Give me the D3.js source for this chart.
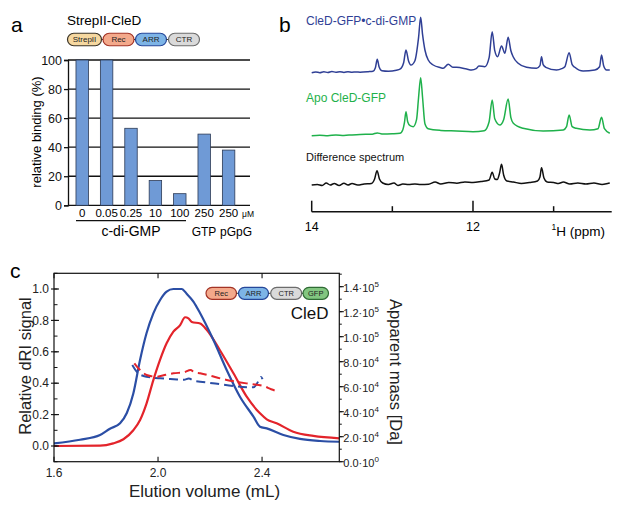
<!DOCTYPE html>
<html>
<head>
<meta charset="utf-8">
<script src="https://cdn.jsdelivr.net/npm/d3@7"></script>
<style>
    body { margin: 0; background: #fff; }
    svg { font-family: "Liberation Sans", Arial, sans-serif; }
</style>
</head>
<body>
<svg id="fig" width="617" height="513"></svg>
<script>
"use strict";

// ---- panel a: binding
const bindCats = ['0', '0.05', '0.25', '10', '100', '250', '250 pGpG'];
const bindLabels = ['0', '0.05', '0.25', '10', '100', '250', '250'];
const bindValues = [100, 100, 53, 17, 8, 49, 38];
const bindTicks = [0, 20, 40, 60, 80, 100];

// ---- panel b: 1D spectra, [ppm, intensity]
const specBound = [[14.00, 0], [13.95, 0.8], [13.90, 0], [13.85, 1.0], [13.80, 0.2], [13.75, 1.2], [13.70, 0.4],
    [13.65, 1.0], [13.60, 0.3], [13.55, 1.0], [13.50, 0.5], [13.45, 0.8], [13.40, 0.5], [13.30, 1.0], [13.24, 1.5],
    [13.21, 5], [13.187, 13.4], [13.165, 6], [13.13, 2], [13.05, 1.5], [12.95, 2.5], [12.906, 3.5], [12.86, 10],
    [12.831, 22.7], [12.80, 12], [12.77, 7.7], [12.72, 12], [12.675, 35], [12.649, 55.4], [12.625, 38], [12.596, 22.7],
    [12.555, 12.7], [12.493, 7.7], [12.40, 5], [12.369, 4.4], [12.307, 8.4], [12.25, 5.5], [12.203, 5.4], [12.079, 3.7],
    [12.017, 2.7], [11.96, 4], [11.927, 6.7], [11.853, 6], [11.80, 15], [11.762, 41], [11.73, 22], [11.695, 16],
    [11.646, 26.7], [11.605, 19.4], [11.564, 35.4], [11.53, 22], [11.502, 16], [11.44, 9.4], [11.336, 5.4],
    [11.212, 4.4], [11.17, 7], [11.150, 16], [11.13, 8], [11.097, 5.4], [10.964, 2.7], [10.90, 4], [10.861, 6],
    [10.808, 20], [10.77, 8], [10.737, 5.4], [10.634, 1.7], [10.489, 2.7], [10.43, 6], [10.406, 17.7], [10.38, 7],
    [10.344, 2.7], [10.304, 2.7]];
const specApo = [[14.00, 0], [13.90, 0.5], [13.80, 0], [13.70, 0.8], [13.60, 0.3], [13.50, 0.8], [13.40, 1.2],
    [13.25, 1.5], [13.187, 2.8], [13.13, 1.8], [13.00, 2], [12.906, 2.4], [12.87, 6], [12.85, 13], [12.831, 24],
    [12.81, 14], [12.78, 10], [12.74, 9], [12.70, 16], [12.675, 38], [12.649, 58], [12.625, 38], [12.596, 12],
    [12.555, 7], [12.40, 5.3], [12.203, 4.7], [12.00, 4], [11.86, 5], [11.80, 14], [11.762, 35.7], [11.73, 17],
    [11.667, 10.7], [11.62, 16], [11.564, 36.7], [11.53, 18], [11.50, 12.4], [11.38, 7.4], [11.13, 4.7],
    [10.88, 5.7], [10.84, 9], [10.808, 20.7], [10.77, 9], [10.72, 7.4], [10.55, 5.7], [10.45, 7], [10.406, 18.4],
    [10.37, 7], [10.304, 2.4]];
const specDiff = [[14.00, 0], [13.93, 0.5], [13.87, -0.5], [13.82, 2], [13.77, 0], [13.72, 1.5], [13.66, -0.5],
    [13.60, 1.8], [13.55, 0], [13.50, 1.5], [13.43, 0], [13.35, 1], [13.26, 1.5], [13.22, 6], [13.19, 14.3],
    [13.16, 6], [13.12, 2], [13.05, 0.5], [12.98, 2], [12.93, -0.5], [12.87, 1], [12.80, 0.5], [12.72, 1],
    [12.65, 0.5], [12.55, 0.8], [12.47, 3], [12.40, 1], [12.30, 2.5], [12.20, 1.8], [12.10, 3], [12.00, 2.5],
    [11.90, 3.5], [11.80, 5], [11.762, 12.7], [11.73, 6], [11.70, 5.5], [11.67, 12], [11.646, 20.7], [11.62, 10],
    [11.58, 4], [11.50, 3], [11.40, 1.5], [11.30, 2.5], [11.20, 4], [11.17, 8], [11.150, 17.3], [11.12, 7],
    [11.08, 3], [11.00, 2.5], [10.94, 1.5], [10.88, 3], [10.80, 1], [10.70, 2], [10.60, 1], [10.50, 2],
    [10.40, 0.5], [10.33, 1.5], [10.304, 2]];
const ppmTicks = [14, 13, 12, 11];

// ---- panel c: SEC-MALS, [volume mL, value]
const riBlue = [[1.60, 0.017], [1.70, 0.04], [1.777, 0.07], [1.815, 0.11], [1.854, 0.145], [1.88, 0.21],
    [1.905, 0.335], [1.931, 0.55], [1.956, 0.72], [1.982, 0.845], [2.008, 0.93], [2.033, 0.983], [2.059, 1.0],
    [2.091, 1.0], [2.11, 0.97], [2.136, 0.92], [2.162, 0.845], [2.213, 0.675], [2.264, 0.484], [2.315, 0.314],
    [2.367, 0.187], [2.392, 0.123], [2.418, 0.112], [2.482, 0.07], [2.546, 0.045], [2.623, 0.032], [2.697, 0.027]];
const riRed = [[1.60, 0.0], [1.777, 0.002], [1.828, 0.017], [1.867, 0.043], [1.905, 0.10], [1.931, 0.166],
    [1.956, 0.272], [1.982, 0.42], [2.008, 0.55], [2.033, 0.654], [2.059, 0.728], [2.085, 0.77], [2.104, 0.82],
    [2.117, 0.813], [2.13, 0.79], [2.162, 0.78], [2.187, 0.74], [2.238, 0.61], [2.29, 0.463], [2.341, 0.314],
    [2.392, 0.208], [2.418, 0.17], [2.456, 0.145], [2.52, 0.091], [2.597, 0.064], [2.697, 0.049]];
const massBlue = [[1.901, 77400], [1.92, 71500], [1.944, 68500], [1.98, 67200], [2.008, 66700], [2.06, 66000],
    [2.10, 65500], [2.118, 66500], [2.14, 64500], [2.162, 64000], [2.22, 62500], [2.29, 60500], [2.367, 59500],
    [2.379, 62000], [2.39, 66000], [2.396, 67800], [2.402, 66000]];
const massRed = [[1.909, 78700], [1.93, 73500], [1.956, 69400], [1.995, 68000], [2.03, 69500], [2.059, 70700],
    [2.10, 71500], [2.125, 73400], [2.14, 71500], [2.162, 70700], [2.264, 65400], [2.354, 62200], [2.405, 60600],
    [2.435, 58000], [2.463, 56000]];
const riTicks = [0.0, 0.2, 0.4, 0.6, 0.8, 1.0];
const volTicks = [1.6, 2.0, 2.4];
const massTicks = [0, 20000, 40000, 60000, 80000, 100000, 120000, 140000];

const svg = d3.select('#fig');
const font = '"Liberation Sans", Arial, sans-serif';

function domainPills(g, items) {
    // little protein domain cartoons
    items.forEach((d, i) => {
        if (i > 0) {
            g.append('line')
                .attr('x1', items[i - 1].x + items[i - 1].w).attr('x2', d.x)
                .attr('y1', 0).attr('y2', 0)
                .attr('stroke', '#333').attr('stroke-width', 1);
        }
        g.append('rect')
            .attr('x', d.x).attr('y', -d.h / 2)
            .attr('width', d.w).attr('height', d.h)
            .attr('rx', d.h / 2).attr('ry', d.h / 2)
            .attr('fill', d.fill).attr('stroke', d.stroke).attr('stroke-width', 1.2);
        g.append('text')
            .attr('x', d.x + d.w / 2).attr('y', 0).attr('dy', '0.35em')
            .attr('text-anchor', 'middle').attr('font-size', d.fs)
            .attr('fill', '#222').text(d.name);
    });
}

function panelA() {
    const g = svg.append('g');
    g.append('text').attr('x', 11).attr('y', 32).attr('font-size', 21).text('a');
    g.append('text').attr('x', 67).attr('y', 25).attr('font-size', 13.5).text('StrepII-CleD');
    domainPills(g.append('g').attr('transform', 'translate(0,39.5)'), [
        {name: 'StrepII', x: 67.5, w: 34, h: 12.5, fill: '#f6d8a0', stroke: '#3a3326', fs: 8},
        {name: 'Rec', x: 103, w: 31, h: 12.5, fill: '#f4a98b', stroke: '#a33325', fs: 8},
        {name: 'ARR', x: 135.5, w: 31, h: 12.5, fill: '#7db4e6', stroke: '#25479a', fs: 8},
        {name: 'CTR', x: 168.5, w: 31, h: 12.5, fill: '#dadada', stroke: '#6c6c6c', fs: 8}
    ]);

    const y = d3.scaleLinear().domain([0, 100]).range([205.3, 60]);
    const x = d3.scaleBand().domain(bindCats).range([70, 240.8]).paddingInner(0.49).paddingOuter(0.245);

    // horizontal lines
    g.selectAll('.grid').data(bindTicks).join('line')
        .attr('x1', 68).attr('x2', 250)
        .attr('y1', d => y(d)).attr('y2', d => y(d))
        .attr('stroke', '#111').attr('stroke-width', 1.3);
    g.selectAll('.bar').data(bindValues).join('rect')
        .attr('x', (d, i) => x(bindCats[i]))
        .attr('width', x.bandwidth())
        .attr('y', d => y(d))
        .attr('height', d => y(0) - y(d))
        .attr('fill', '#6f9ad6').attr('stroke', '#2c3a55').attr('stroke-width', 0.8);

    const ax = g.append('g').attr('transform', 'translate(68,0)')
        .call(d3.axisLeft(y).tickValues(bindTicks).tickSize(4).tickPadding(2));
    ax.select('.domain').attr('stroke', '#111').attr('stroke-width', 1.3);
    ax.selectAll('.tick line').attr('stroke', '#111').attr('stroke-width', 1.3);
    ax.selectAll('.tick text').attr('font-family', font).attr('font-size', 12.5).attr('fill', '#111');

    g.selectAll('.xl').data(bindLabels).join('text')
        .attr('x', (d, i) => x(bindCats[i]) + x.bandwidth() / 2)
        .attr('y', 216.5).attr('text-anchor', 'middle')
        .attr('font-size', 11.5).text(d => d);
    g.append('text').attr('x', 248).attr('y', 216.5).attr('text-anchor', 'middle')
        .attr('font-size', 8.5).text('μM');

    g.append('line').attr('x1', 76).attr('x2', 186).attr('y1', 220.7).attr('y2', 220.7)
        .attr('stroke', '#111').attr('stroke-width', 1.2);
    g.append('text').attr('x', 131).attr('y', 236).attr('text-anchor', 'middle')
        .attr('font-size', 14).text('c-di-GMP');
    g.append('text').attr('x', 204).attr('y', 236).attr('text-anchor', 'middle')
        .attr('font-size', 12).text('GTP');
    g.append('text').attr('x', 236).attr('y', 236).attr('text-anchor', 'middle')
        .attr('font-size', 12).text('pGpG');

    g.append('text').attr('transform', 'translate(41,132) rotate(-90)')
        .attr('text-anchor', 'middle').attr('font-size', 13).text('relative binding (%)');
}

function panelB() {
    const g = svg.append('g');
    g.append('text').attr('x', 279).attr('y', 32).attr('font-size', 21).text('b');

    const x = d3.scaleLinear().domain([14, 10.28]).range([311.7, 611.7]);
    const traces = [
        {data: specBound, base: 72.7, color: '#2f3f95', label: 'CleD-GFP\u2022c-di-GMP', ly: 25, fs: 12},
        {data: specApo, base: 135.7, color: '#1fb14b', label: 'Apo CleD-GFP', ly: 101.5, fs: 12},
        {data: specDiff, base: 185, color: '#111', label: 'Difference spectrum', ly: 161, fs: 11}
    ];
    traces.forEach(t => {
        const y = d3.scaleLinear().domain([0, 60]).range([t.base, t.base - 60]);
        const line = d3.line().x(d => x(d[0])).y(d => y(d[1])).curve(d3.curveMonotoneX);
        g.append('path').datum(t.data)
            .attr('d', line)
            .attr('fill', 'none').attr('stroke', t.color).attr('stroke-width', 1.5)
            .attr('stroke-linejoin', 'round');
        g.append('text').attr('x', 306).attr('y', t.ly)
            .attr('font-size', t.fs).attr('fill', t.color).text(t.label);
    });

    const axisY = 211.7;
    g.append('line').attr('x1', x(14)).attr('x2', 611.7).attr('y1', axisY).attr('y2', axisY)
        .attr('stroke', '#111').attr('stroke-width', 1.5);
    g.selectAll('.pt').data(ppmTicks).join('line')
        .attr('x1', d => x(d)).attr('x2', d => x(d))
        .attr('y1', axisY).attr('y2', d => axisY - (d % 2 === 0 ? 11 : 5.5))
        .attr('stroke', '#111').attr('stroke-width', 1.5);
    g.selectAll('.pl').data(ppmTicks.filter(d => d % 2 === 0)).join('text')
        .attr('x', d => x(d)).attr('y', 230.5).attr('text-anchor', 'middle')
        .attr('font-size', 12.5).text(d => d);
    const hl = g.append('text').attr('x', 551.5).attr('y', 236).attr('font-size', 13.5);
    hl.append('tspan').attr('font-size', 8.5).attr('dy', -6).text('1');
    hl.append('tspan').attr('dy', 6).text('H (ppm)');
}

function panelC() {
    const g = svg.append('g');
    g.append('text').attr('x', 10).attr('y', 278).attr('font-size', 21).text('c');

    const left = 54, right = 339.3, top = 273.3, bottom = 461.7;
    const x = d3.scaleLinear().domain([1.6, 2.697]).range([left, right]);
    const y = d3.scaleLinear().domain([-0.1, 1.1]).range([bottom, top]);
    const y2 = d3.scaleLinear().domain([0, 150700]).range([bottom, top]);

    // curves
    const ri = d3.line().x(d => x(d[0])).y(d => y(d[1])).curve(d3.curveMonotoneX);
    const ms = d3.line().x(d => x(d[0])).y(d => y2(d[1])).curve(d3.curveMonotoneX);
    g.append('clipPath').attr('id', 'clipc').append('rect')
        .attr('x', left).attr('y', top).attr('width', right - left).attr('height', bottom - top);
    const plot = g.append('g').attr('clip-path', 'url(#clipc)');
    plot.append('path').datum(riRed).attr('d', ri)
        .attr('fill', 'none').attr('stroke', '#e3242b').attr('stroke-width', 2.2);
    plot.append('path').datum(riBlue).attr('d', ri)
        .attr('fill', 'none').attr('stroke', '#2b4ea5').attr('stroke-width', 2.2);
    plot.append('path').datum(massBlue).attr('d', ms)
        .attr('fill', 'none').attr('stroke', '#2b4ea5').attr('stroke-width', 2)
        .attr('stroke-dasharray', '9,5');
    plot.append('path').datum(massRed).attr('d', ms)
        .attr('fill', 'none').attr('stroke', '#e3242b').attr('stroke-width', 2)
        .attr('stroke-dasharray', '9,5');

    // frame
    g.append('rect').attr('x', left).attr('y', top)
        .attr('width', right - left).attr('height', bottom - top)
        .attr('fill', 'none').attr('stroke', '#111').attr('stroke-width', 1.2);

    // left axis ticks
    const minorRi = d3.range(-0.1, 1.1001, 0.1).map(d => Math.round(d * 10) / 10);
    g.selectAll('.mr').data(minorRi).join('line')
        .attr('x1', left).attr('x2', left + 3.5)
        .attr('y1', d => y(d)).attr('y2', d => y(d))
        .attr('stroke', '#111').attr('stroke-width', 1);
    g.selectAll('.Mr').data(riTicks).join('line')
        .attr('x1', left - 3).attr('x2', left + 5)
        .attr('y1', d => y(d)).attr('y2', d => y(d))
        .attr('stroke', '#111').attr('stroke-width', 1.1);
    g.selectAll('.lr').data(riTicks).join('text')
        .attr('x', left - 5).attr('y', d => y(d)).attr('dy', '0.35em')
        .attr('text-anchor', 'end').attr('font-size', 12).attr('fill', '#222')
        .text(d3.format('.1f'));

    // x ticks, bottom and top
    g.selectAll('.xb').data(volTicks).join('line')
        .attr('x1', d => x(d)).attr('x2', d => x(d))
        .attr('y1', bottom).attr('y2', bottom - 5)
        .attr('stroke', '#111').attr('stroke-width', 1.1);
    g.selectAll('.xt').data(volTicks).join('line')
        .attr('x1', d => x(d)).attr('x2', d => x(d))
        .attr('y1', top).attr('y2', top + 5)
        .attr('stroke', '#111').attr('stroke-width', 1.1);
    g.selectAll('.xl').data(volTicks).join('text')
        .attr('x', d => x(d)).attr('y', 477).attr('text-anchor', 'middle')
        .attr('font-size', 12).attr('fill', '#222').text(d3.format('.1f'));

    // right axis
    const minorMass = d3.range(0, 150001, 10000);
    g.selectAll('.mm').data(minorMass).join('line')
        .attr('x1', right).attr('x2', right + 2.5)
        .attr('y1', d => y2(d)).attr('y2', d => y2(d))
        .attr('stroke', '#111').attr('stroke-width', 1);
    g.selectAll('.Mm').data(massTicks).join('line')
        .attr('x1', right).attr('x2', right + 4.5)
        .attr('y1', d => y2(d)).attr('y2', d => y2(d))
        .attr('stroke', '#111').attr('stroke-width', 1.1);
    g.selectAll('.ml').data(massTicks).join('text')
        .attr('x', right + 4).attr('y', d => y2(d)).attr('dy', '0.45em')
        .attr('font-size', 11).attr('fill', '#222')
        .each(function (d) {
            const e = d === 0 ? 0 : Math.floor(Math.log10(d));
            const m = d === 0 ? 0 : d / Math.pow(10, e);
            const t = d3.select(this);
            t.append('tspan').text(m.toFixed(1) + '\u00b710');
            t.append('tspan').attr('dy', -5).attr('font-size', 8).text(e);
        });

    // axis titles
    g.append('text').attr('transform', 'translate(31,366) rotate(-90)')
        .attr('text-anchor', 'middle').attr('font-size', 16.5).attr('fill', '#222')
        .text('Relative dRI signal');
    g.append('text').attr('transform', 'translate(390,372) rotate(90)')
        .attr('text-anchor', 'middle').attr('font-size', 16.5).attr('fill', '#222')
        .text('Apparent mass [Da]');
    g.append('text').attr('x', 204.5).attr('y', 497).attr('text-anchor', 'middle')
        .attr('font-size', 17).attr('fill', '#222').text('Elution volume (mL)');

    domainPills(g.append('g').attr('transform', 'translate(0,293.3)'), [
        {name: 'Rec', x: 206, w: 30.5, h: 12, fill: '#f4a98b', stroke: '#a33325', fs: 7.5},
        {name: 'ARR', x: 238.5, w: 30, h: 12, fill: '#7db4e6', stroke: '#25479a', fs: 7.5},
        {name: 'CTR', x: 270.7, w: 31, h: 12, fill: '#dadada', stroke: '#6c6c6c', fs: 7.5},
        {name: 'GFP', x: 303, w: 25.5, h: 12, fill: '#82c680', stroke: '#2f6b34', fs: 7.5}
    ]);
    g.append('text').attr('x', 328.5).attr('y', 318.5).attr('text-anchor', 'end')
        .attr('font-size', 17).attr('fill', '#111').text('CleD');
}

panelA();
panelB();
panelC();
</script>
</body>
</html>
